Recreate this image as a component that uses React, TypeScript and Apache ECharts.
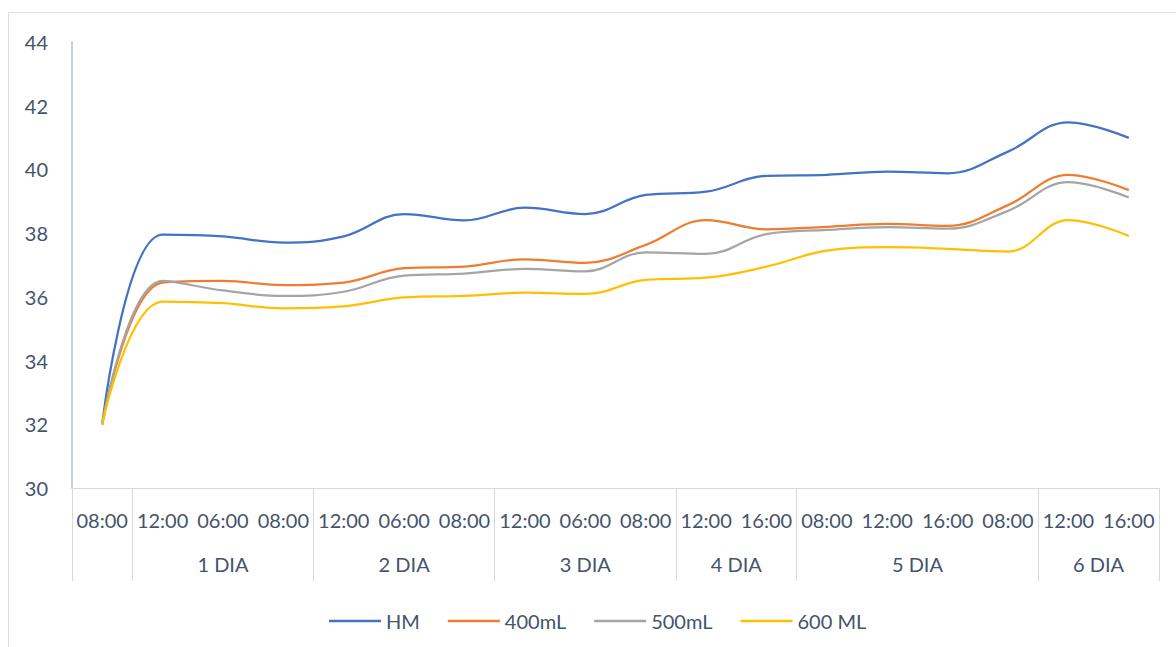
import React, { useEffect, useRef } from 'react';
import * as echarts from 'echarts';

// Reading times (one per point) and the day groups they belong to
const times = ['08:00', '12:00', '06:00', '08:00', '12:00', '06:00', '08:00', '12:00', '06:00', '08:00', '12:00', '16:00', '08:00', '12:00', '16:00', '08:00', '12:00', '16:00'];
const days = ['', '1 DIA', '2 DIA', '3 DIA', '4 DIA', '5 DIA', '6 DIA'];
const daySpans = [1, 3, 3, 3, 2, 4, 2];

const seriesNames = ['HM', '400mL', '500mL', '600 ML'];
const hm = [32.0, 37.95, 37.9, 37.7, 37.9, 38.6, 38.4, 38.8, 38.6, 39.2, 39.3, 39.8, 39.83, 39.93, 39.88, 40.56, 41.48, 40.99];
const ml400 = [32.0, 36.45, 36.5, 36.37, 36.45, 36.9, 36.95, 37.18, 37.07, 37.63, 38.41, 38.12, 38.2, 38.29, 38.23, 38.88, 39.83, 39.35];
const ml500 = [32.0, 36.5, 36.2, 36.03, 36.16, 36.67, 36.73, 36.88, 36.8, 37.4, 37.35, 37.97, 38.1, 38.19, 38.14, 38.7, 39.6, 39.12];
const ml600 = [32.0, 35.85, 35.8, 35.64, 35.7, 35.98, 36.03, 36.13, 36.09, 36.53, 36.6, 36.95, 37.45, 37.56, 37.51, 37.42, 38.41, 37.91];

const colors = ['#4472C4', '#ED7D31', '#A5A5A5', '#FFC000'];
const textColor = '#44546A';
const gridLine = '#D9D9D9';
const font = 'Lato, "Open Sans", sans-serif';

export default function App() {
  const ref = useRef<HTMLDivElement>(null);

  useEffect(() => {
    if (!ref.current) return;
    const chart = echarts.init(ref.current, null, { renderer: 'svg' });

    // Day-group axis: half-step slots so group edges and centres land on slots
    const slots = times.length * 2 + 1;
    const boundaries = new Set<number>();
    const centreLabel: Record<number, string> = {};
    let acc = 0;
    boundaries.add(0);
    daySpans.forEach((span, i) => {
      const start = acc * 2;
      acc += span;
      const end = acc * 2;
      boundaries.add(end);
      if (days[i]) centreLabel[(start + end) / 2] = days[i];
    });
    const slotData = Array.from({ length: slots }, (_, i) => 's' + i);

    const data = [hm, ml400, ml500, ml600];

    chart.setOption({
      animation: false,
      color: colors,
      textStyle: { fontFamily: font },
      grid: { left: 72, right: 17, top: 42, bottom: 159, containLabel: false },
      legend: {
        left: 324,
        top: 606,
        icon: 'rect',
        itemWidth: 52,
        itemHeight: 2.5,
        itemGap: 28,
        textStyle: { color: textColor, fontSize: 20, fontFamily: font },
        data: seriesNames,
      },
      xAxis: [
        {
          type: 'category',
          position: 'bottom',
          data: times,
          boundaryGap: true,
          axisLine: { show: true, lineStyle: { color: gridLine, width: 1 } },
          axisTick: { show: false },
          axisLabel: { interval: 0, color: textColor, fontSize: 20, margin: 22, fontFamily: font },
          splitLine: { show: false },
        },
        {
          type: 'category',
          position: 'bottom',
          data: slotData,
          boundaryGap: false,
          axisLine: { show: false },
          axisTick: {
            show: true,
            length: 93,
            inside: false,
            interval: (index: number) => boundaries.has(index),
            lineStyle: { color: gridLine, width: 1 },
          },
          axisLabel: {
            interval: 0,
            color: textColor,
            fontSize: 20,
            margin: 66,
            fontFamily: font,
            formatter: (_v: string, index: number) => centreLabel[index] || '',
          },
          splitLine: { show: false },
        },
      ],
      yAxis: {
        type: 'value',
        min: 30,
        max: 44,
        interval: 2,
        axisLine: { show: true, lineStyle: { color: '#B4BFCF', width: 1.5 } },
        axisTick: { show: false },
        splitLine: { show: false },
        axisLabel: { color: textColor, fontSize: 20, margin: 24, fontFamily: font },
      },
      graphic: [
        {
          type: 'rect',
          silent: true,
          shape: { x: 8.5, y: 12.5, width: 1300, height: 800 },
          style: { fill: 'none', stroke: '#D9DEE6', lineWidth: 1 },
        },
      ],
      series: data.map((d, i) => ({
        name: seriesNames[i],
        type: 'line',
        xAxisIndex: 0,
        data: d,
        smooth: 0.4,
        symbol: 'none',
        lineStyle: { width: 2.25, color: colors[i] },
        itemStyle: { color: colors[i] },
      })),
    });

    return () => chart.dispose();
  }, []);

  return (
    <div
      ref={ref}
      style={{ position: 'absolute', left: 0, top: 0, width: 1176, height: 647, background: '#fff' }}
    />
  );
}
